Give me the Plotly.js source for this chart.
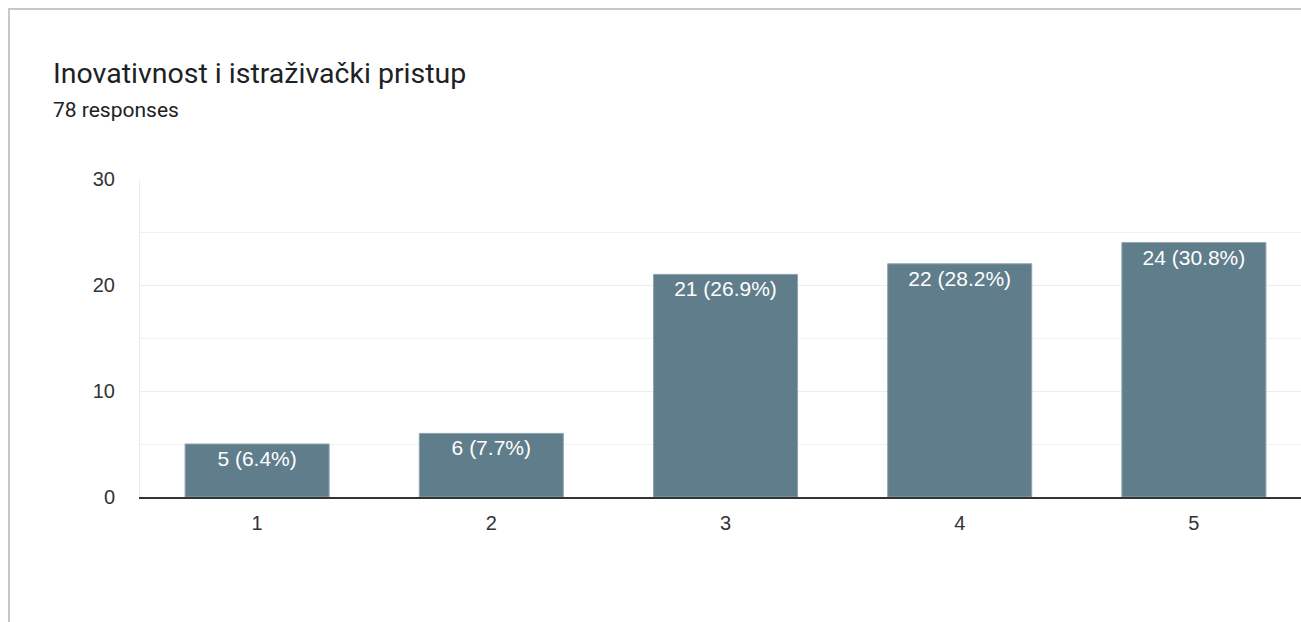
<!DOCTYPE html>
<html>
<head>
<meta charset="utf-8">
<script src="https://cdn.plot.ly/plotly-3.0.1.min.js"></script>
<style>
html,body{margin:0;padding:0;background:#fff;overflow:hidden;}
#frame{position:absolute;left:8px;top:8px;width:1400px;height:700px;border-top:2px solid #c8c8c8;border-left:2px solid #c8c8c8;}
#chart{position:absolute;left:0;top:0;width:1301px;height:622px;}
</style>
</head>
<body>
<div id="frame"></div>
<div id="chart"></div>
<script>
const categories = ['1', '2', '3', '4', '5'];
const counts = [5, 6, 21, 22, 24];
const percents = ['6.4%', '7.7%', '26.9%', '28.2%', '30.8%'];
const yTicks = [0, 10, 20, 30];
const titleText = 'Inovativnost i istraživački pristup';
const subtitleText = '78 responses';

const labels = counts.map((c, i) => c + ' (' + percents[i] + ')');
const xs = categories.map(Number);

const plotL = 140, plotR = 1301, plotT = 179, plotB = 497;
const W = 1301, H = 622;
const pw = plotR - plotL, ph = plotB - plotT;
const catW = 234.2;
function px2x(px){ return (px - plotL) / pw; }
function px2y(py){ return (plotB - py) / ph; }

const trace = {
  type: 'bar',
  x: xs,
  y: counts,
  width: 0.615,
  text: labels,
  textposition: 'inside',
  insidetextanchor: 'end',
  textangle: 0,
  constraintext: 'none',
  textfont: {family: 'Liberation Sans, Arial, sans-serif', size: 21, color: '#ffffff'},
  marker: {color: '#607d8b', line: {color: '#8fa3ad', width: 1}},
  hoverinfo: 'none'
};

const layout = {
  width: W, height: H,
  margin: {l: plotL, r: W - plotR, t: plotT, b: H - plotB, pad: 0},
  paper_bgcolor: 'rgba(0,0,0,0)',
  plot_bgcolor: 'rgba(0,0,0,0)',
  showlegend: false,
  bargap: 0.385,
  xaxis: {
    range: [0.5, 0.5 + pw / catW],
    tickmode: 'array',
    tickvals: xs,
    ticktext: categories,
    showgrid: false,
    zeroline: false,
    showline: true,
    linecolor: '#333333',
    linewidth: 2,
    ticks: '',
    ticklabelstandoff: 7,
    tickfont: {family: 'Liberation Sans, Arial, sans-serif', size: 20, color: '#333333'},
    fixedrange: true
  },
  yaxis: {
    range: [0, 30],
    tickmode: 'array',
    tickvals: yTicks,
    ticktext: yTicks.map(String),
    showgrid: true,
    gridcolor: '#ececec',
    gridwidth: 1,
    minor: {dtick: 5, tick0: 0, showgrid: true, gridcolor: '#f2f2f2', gridwidth: 1},
    zeroline: false,
    showline: true,
    linecolor: '#ececec',
    linewidth: 1,
    ticks: '',
    ticklabelstandoff: 20,
    tickfont: {family: 'Liberation Sans, Arial, sans-serif', size: 20, color: '#333333'},
    fixedrange: true
  },
  annotations: [
    {
      text: titleText, xref: 'paper', yref: 'paper',
      x: px2x(51), y: px2y(73), xanchor: 'left', yanchor: 'middle',
      showarrow: false,
      font: {family: 'Roboto, sans-serif', size: 28.5, color: '#202124'}
    },
    {
      text: subtitleText, xref: 'paper', yref: 'paper',
      x: px2x(51), y: px2y(110), xanchor: 'left', yanchor: 'middle',
      showarrow: false,
      font: {family: 'Roboto, sans-serif', size: 21, color: '#202124'}
    }
  ]
};

Plotly.newPlot('chart', [trace], layout, {displayModeBar: false, staticPlot: true});
</script>
</body>
</html>
